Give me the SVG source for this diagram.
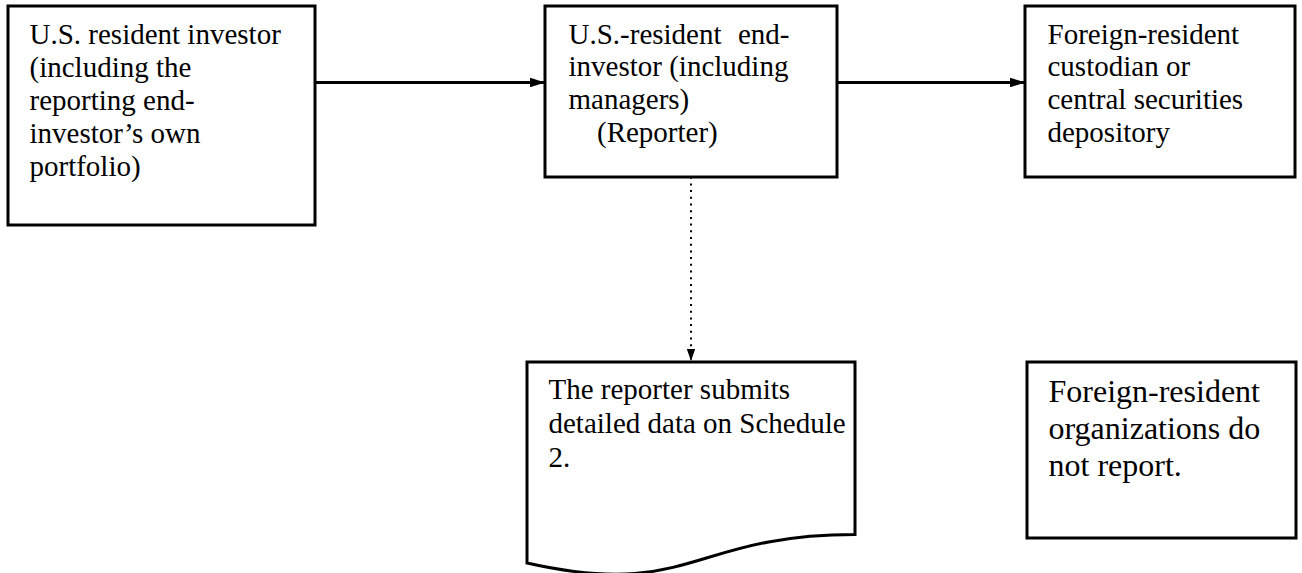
<svg xmlns="http://www.w3.org/2000/svg" width="1302" height="573" viewBox="0 0 1302 573">
<style>
.box{fill:#fff;stroke:#000;stroke-width:3}
.t{font-family:"Liberation Serif","Times New Roman",serif;font-size:29px;fill:#000}
.t2{font-family:"Liberation Serif","Times New Roman",serif;font-size:32px;fill:#000}
.con{stroke:#000;stroke-width:3;fill:none}
.dot{stroke:#000;stroke-width:2;fill:none;stroke-dasharray:2 4.7}
</style>
<defs>
<marker id="ah" viewBox="0 0 10 10" refX="10" refY="5" markerWidth="5" markerHeight="3.2" orient="auto" markerUnits="strokeWidth" preserveAspectRatio="none">
<path d="M0,0 L10,5 L0,10 Z" fill="#000"/>
</marker>
<marker id="ah2" viewBox="0 0 10 10" refX="10" refY="5" markerWidth="6" markerHeight="4.2" orient="auto" markerUnits="strokeWidth" preserveAspectRatio="none">
<path d="M0,0 L10,5 L0,10 Z" fill="#000"/>
</marker>
</defs>
<g id="connectors">
<line class="con" x1="315" y1="82.5" x2="545" y2="82.5" marker-end="url(#ah)"/>
<line class="con" x1="837" y1="82.5" x2="1025" y2="82.5" marker-end="url(#ah)"/>
<line class="dot" x1="691" y1="170" x2="691" y2="361" marker-end="url(#ah2)"/>
</g>
<g id="node-us-investor">
<rect class="box" x="8" y="6" width="307" height="219"/>
<text class="t"><tspan x="29.5" y="43.5">U.S. resident investor</tspan><tspan x="29.5" y="76.5">(including the</tspan><tspan x="29.5" y="109.5">reporting end-</tspan><tspan x="29.5" y="142.5">investor’s own</tspan><tspan x="29.5" y="175.5">portfolio)</tspan></text>
</g>
<g id="node-reporter">
<rect class="box" x="545" y="6" width="292" height="171"/>
<text class="t"><tspan x="568.5" y="43.5">U.S.-resident</tspan><tspan x="738" y="43.5">end-</tspan><tspan x="568.5" y="76.2">investor (including</tspan><tspan x="568.5" y="108.9">managers)</tspan><tspan x="597" y="141.6">(Reporter)</tspan></text>
</g>
<g id="node-custodian">
<rect class="box" x="1025" y="6" width="270" height="171"/>
<text class="t"><tspan x="1047.5" y="43.5">Foreign-resident</tspan><tspan x="1047.5" y="76.2">custodian or</tspan><tspan x="1047.5" y="108.9">central securities</tspan><tspan x="1047.5" y="141.6">depository</tspan></text>
</g>
<g id="node-schedule">
<path class="box" d="M527,362 L855,362 L855,534.5 C691,534.5 691,600 527,563 Z"/>
<text class="t"><tspan x="548.5" y="398.5">The reporter submits</tspan><tspan x="548.5" y="432.5">detailed data on Schedule</tspan><tspan x="548.5" y="466.5">2.</tspan></text>
</g>
<g id="node-foreign">
<rect class="box" x="1027" y="362" width="269" height="176"/>
<text class="t2"><tspan x="1048.5" y="401.5">Foreign-resident</tspan><tspan x="1048.5" y="438.5">organizations do</tspan><tspan x="1048.5" y="475.5">not report.</tspan></text>
</g>
</svg>
